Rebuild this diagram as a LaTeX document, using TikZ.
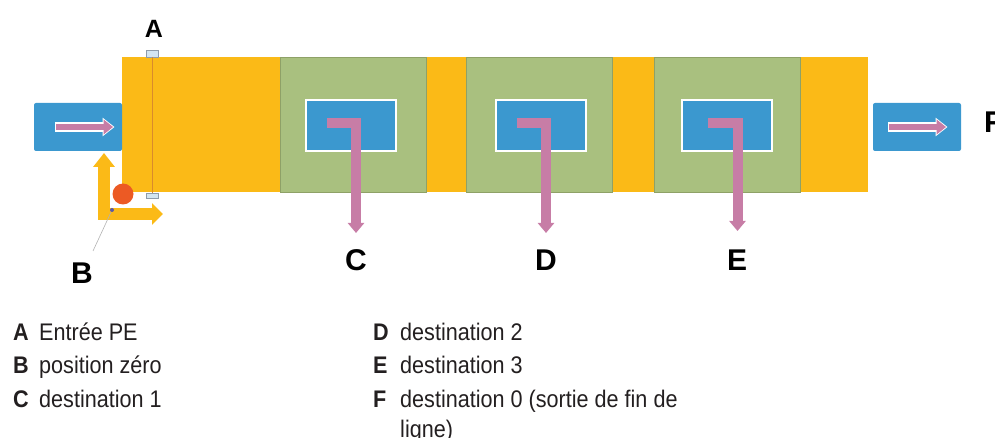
\documentclass[tikz,border=0pt]{standalone}
\usepackage{fontspec}
\setmainfont{Liberation Sans}
\newfontfamily\legendfont{Liberation Sans}[FakeStretch=0.9]
\usetikzlibrary{arrows.meta}

\definecolor{bandorange}{HTML}{FBBA17}
\definecolor{stationgreen}{HTML}{A9C07F}
\definecolor{stationedge}{HTML}{8EA167}
\definecolor{boxblue}{HTML}{3B98CF}
\definecolor{flowpink}{HTML}{C77DA6}
\definecolor{ballred}{HTML}{EC5A24}
\definecolor{markerline}{HTML}{D98A2C}
\definecolor{markerfill}{HTML}{D3E5F1}
\definecolor{markeredge}{HTML}{8E9CAB}
\definecolor{legendtext}{HTML}{231F20}

\begin{document}
\begin{tikzpicture}[x=1pt,y=-1pt,
  rect/.style={inner sep=0pt, outer sep=0pt, anchor=north west},
  station/.style={rect, fill=stationgreen, draw=stationedge, line width=0.8pt,
    minimum width=146pt, minimum height=135pt},
  slot/.style={rect, fill=boxblue, draw=white, line width=1.4pt,
    minimum width=90pt, minimum height=51pt},
  portbox/.style={rect, fill=boxblue, rounded corners=2pt,
    minimum width=88pt, minimum height=48pt},
  outpink/.style={line width=9.5pt, white, -{Triangle[width=18pt,length=12pt]}},
  inpink/.style={line width=6.5pt, flowpink, -{Triangle[width=14.5pt,length=9.5pt]}},
  routeL/.style={line width=10pt, flowpink, line join=miter,
    -{Triangle[width=16pt,length=10pt]}},
  axis/.style={line width=12pt, bandorange},
  lbl/.style={inner sep=0pt, font=\fontsize{30}{30}\selectfont\bfseries, text=black},
  lblsmall/.style={lbl, font=\fontsize{25}{25}\selectfont\bfseries},
  legend/.style={inner sep=0pt, anchor=base west, text=legendtext,
    font=\legendfont\fontsize{24}{31}\selectfont},
  legendkey/.style={legend, font=\legendfont\fontsize{24}{31}\selectfont\bfseries}
]
\useasboundingbox (0,0) rectangle (995,438);

% conveyor band and the three stations
\node[rect, fill=bandorange, minimum width=746pt, minimum height=135pt] (band) at (122,57) {};
\node[station] (st1) at (280,57) {};
\node[station] (st2) at (466,57) {};
\node[station] (st3) at (654,57) {};

% blue slots inside the stations
\node[slot] (s1) at (306,100) {};
\node[slot] (s2) at (496,100) {};
\node[slot] (s3) at (682,100) {};

% entry and exit ports
\node[portbox] (in)  at (34,103) {};
\node[portbox] (out) at (873,103) {};

% flow arrows inside the ports
\coordinate (inA) at (56,127);   \coordinate (inB) at (113,127);
\coordinate (outA) at (889,127); \coordinate (outB) at (946,127);
\draw[outpink] ([xshift=-1.2pt]inA) -- ([xshift=1.5pt]inB);
\draw[inpink] (inA) -- (inB);
\draw[outpink] ([xshift=-1.2pt]outA) -- ([xshift=1.5pt]outB);
\draw[inpink] (outA) -- (outB);

% L-shaped routes leaving each station
\coordinate (r1a) at (327,123.5); \coordinate (r1b) at (356,123.5); \coordinate (r1c) at (356,233);
\coordinate (r2a) at (517,123.5); \coordinate (r2b) at (546,123.5); \coordinate (r2c) at (546,233);
\coordinate (r3a) at (708,123.5); \coordinate (r3b) at (737.5,123.5); \coordinate (r3c) at (737.5,231);
\draw[routeL] (r1a) -- (r1b) -- (r1c);
\draw[routeL] (r2a) -- (r2b) -- (r2c);
\draw[routeL] (r3a) -- (r3b) -- (r3c);

% entry sensor line with its end markers
\node[rect, fill=markerfill, draw=markeredge, line width=0.6pt,
  minimum width=12pt, minimum height=7pt] (mtop) at (146,50) {};
\node[rect, fill=markerfill, draw=markeredge, line width=0.6pt,
  minimum width=12pt, minimum height=5pt] (mbot) at (146,193) {};
\draw[markerline, line width=0.9pt] (mtop.south) -- (mbot.north);

% zero-position axes
\coordinate (origin) at (104,214);
\draw[axis, -{Triangle[width=21pt,length=14pt]}] (104,220) -- (104,153);
\draw[axis, -{Triangle[width=21pt,length=11pt]}] (98,214) -- (163,214);
\fill[ballred] (123,194) circle (10.5pt);
\node[circle, fill=gray!70!blue, inner sep=0pt, minimum size=4pt] (zero) at (112,210) {};
\coordinate (leaderend) at (93,251);
\draw[gray!60, line width=0.6pt] (zero) -- (leaderend);

% callout letters
\node[lblsmall] (la) at (154,29) {A};
\node[lbl] (lb) at (82,273) {B};
\node[lbl] (lc) at (356,260) {C};
\node[lbl] (ld) at (546,260) {D};
\node[lbl] (le) at (737,260) {E};
\node[lbl, anchor=west] (lf) at (984,122) {F};

% legend
\node[legendkey] (ka) at (13,340) {A};
\node[legend]    (ta) at (39,340) {Entrée PE};
\node[legendkey] (kb) at (13,373.5) {B};
\node[legend]    (tb) at (39,373.5) {position zéro};
\node[legendkey] (kc) at (13,407) {C};
\node[legend]    (tc) at (39,407) {destination 1};
\node[legendkey] (kd) at (373,340) {D};
\node[legend]    (td) at (400,340) {destination 2};
\node[legendkey] (ke) at (373,373.5) {E};
\node[legend]    (te) at (400,373.5) {destination 3};
\node[legendkey] (kf) at (373,407) {F};
\node[legend]    (tf) at (400,407) {destination 0 (sortie de fin de};
\node[legend]    (tf2) at (400,437) {ligne)};
\end{tikzpicture}
\end{document}
